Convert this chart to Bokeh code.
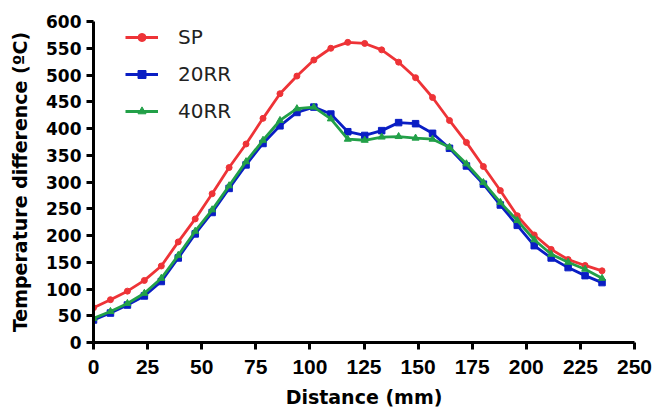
from bokeh.plotting import figure
from bokeh.models import Legend, LegendItem, Range1d, FixedTicker
from bokeh.embed import file_html
from bokeh.resources import INLINE

distance = [0, 7.83, 15.67, 23.5, 31.33, 39.17, 47, 54.83, 62.67, 70.5, 78.33,
            86.17, 94, 101.83, 109.67, 117.5, 125.33, 133.17, 141, 148.83, 156.67,
            164.5, 172.33, 180.17, 188, 195.83, 203.67, 211.5, 219.33, 227.17, 235]
sp = [65, 80, 96, 116, 143, 188, 231, 278, 327, 371, 419, 465, 498, 528, 550, 561,
      559, 547, 524, 495, 458, 415, 374, 329, 284, 237, 201, 174, 155, 144, 134]
rr20 = [42, 55, 70, 87, 114, 158, 203, 243, 288, 332, 372, 405, 430, 440, 427, 394,
        387, 396, 411, 409, 391, 363, 330, 296, 257, 219, 181, 158, 140, 125, 112]
rr40 = [45, 58, 73, 92, 120, 163, 208, 248, 293, 338, 378, 415, 437, 440, 418, 380,
        378, 384, 385, 382, 380, 365, 334, 299, 262, 228, 192, 165, 150, 137, 120]
series_names = ["SP", "20RR", "40RR"]
x_ticks = [0, 25, 50, 75, 100, 125, 150, 175, 200, 225, 250]
y_ticks = [0, 50, 100, 150, 200, 250, 300, 350, 400, 450, 500, 550, 600]

RED = "#EE3337"
BLUE = "#0A1EC4"
GREEN = "#22A048"

p = figure(width=654, height=410, output_backend="svg", toolbar_location=None,
           x_range=Range1d(0, 250), y_range=Range1d(0, 600),
           min_border_left=93, min_border_right=20, min_border_top=21, min_border_bottom=68)
p.outline_line_color = None
p.grid.visible = False
p.background_fill_color = "white"
p.border_fill_color = "white"

lw = 2.8
r1 = p.line(distance, sp, line_color=RED, line_width=lw)
m1 = p.scatter(distance, sp, marker="circle", size=6, fill_color=RED, line_color=RED)
r2 = p.line(distance, rr20, line_color=BLUE, line_width=lw)
m2 = p.scatter(distance, rr20, marker="square", size=6.5, fill_color=BLUE, line_color=BLUE)
r3 = p.line(distance, rr40, line_color=GREEN, line_width=lw)
m3 = p.scatter(distance, rr40, marker="triangle", size=7, fill_color=GREEN, line_color=GREEN)

for ax in (p.xaxis[0], p.yaxis[0]):
    ax.axis_line_width = 3
    ax.major_tick_line_width = 3
    ax.major_tick_out = 7
    ax.major_tick_in = 0
    ax.minor_tick_out = 0
    ax.minor_tick_in = 0
    ax.axis_line_color = "black"
    ax.major_tick_line_color = "black"
    ax.major_label_text_color = "black"
    ax.axis_label_text_color = "black"
    ax.axis_label_text_font_style = "bold"
    ax.major_label_text_font_style = "bold"

p.xaxis.ticker = FixedTicker(ticks=x_ticks)
p.yaxis.ticker = FixedTicker(ticks=y_ticks)
p.xaxis.axis_label = "Distance (mm)"
p.yaxis.axis_label = "Temperature difference (ºC)"
p.xaxis.major_label_text_font = "Liberation Sans"
p.xaxis.major_label_text_font_size = "21px"
p.yaxis.major_label_text_font = "DejaVu Sans"
p.yaxis.major_label_text_font_size = "17px"
p.xaxis.axis_label_text_font = "DejaVu Sans"
p.yaxis.axis_label_text_font = "DejaVu Sans"
p.xaxis.axis_label_text_font_size = "19px"
p.yaxis.axis_label_text_font_size = "19px"
p.xaxis.major_label_standoff = 10
p.xaxis.axis_label_standoff = 9
p.yaxis.major_label_standoff = 5
p.yaxis.axis_label_standoff = 12

legend = Legend(items=[LegendItem(label=series_names[0], renderers=[r1, m1]),
                       LegendItem(label=series_names[1], renderers=[r2, m2]),
                       LegendItem(label=series_names[2], renderers=[r3, m3])],
                location=(32, 219), padding=0, margin=0, spacing=13,
                glyph_width=33, glyph_height=20, label_height=20, label_standoff=20,
                border_line_color=None, background_fill_alpha=0,
                label_text_font="DejaVu Sans", label_text_font_size="20px",
                label_text_color="#222222")
p.add_layout(legend, "center")

open("out.html", "w").write(file_html(p, INLINE))
